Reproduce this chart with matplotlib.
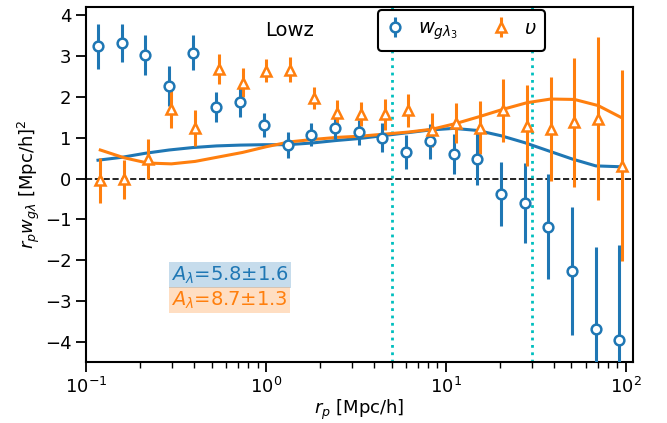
import numpy as np
import matplotlib
matplotlib.use("Agg")
import matplotlib.pyplot as plt

# ---- data ----
rp = [0.1166, 0.1579, 0.2138, 0.2897, 0.3925, 0.5316, 0.7202, 0.9754, 1.321, 1.790,
      2.424, 3.284, 4.449, 6.026, 8.163, 11.06, 14.98, 20.29, 27.48, 37.23,
      50.43, 68.31, 92.52]
w_g = [3.24, 3.33, 3.03, 2.27, 3.09, 1.75, 1.88, 1.31, 0.82, 1.08, 1.25, 1.13,
       1.00, 0.65, 0.91, 0.60, 0.47, -0.38, -0.60, -1.18, -2.27, -3.68, -3.97]
w_g_err = [0.56, 0.46, 0.48, 0.49, 0.43, 0.37, 0.36, 0.29, 0.31, 0.27, 0.29, 0.31,
           0.36, 0.41, 0.43, 0.50, 0.64, 0.78, 0.98, 1.28, 1.58, 2.00, 2.35]
ups = [-0.04, -0.02, 0.47, 1.70, 1.23, 2.69, 2.35, 2.64, 2.67, 1.98, 1.60, 1.58,
       1.58, 1.67, 1.19, 1.36, 1.24, 1.67, 1.30, 1.22, 1.38, 1.47, 0.31]
ups_err = [0.55, 0.47, 0.49, 0.47, 0.44, 0.37, 0.35, 0.28, 0.30, 0.27, 0.33, 0.30,
           0.38, 0.40, 0.42, 0.50, 0.65, 0.78, 1.00, 1.28, 1.58, 2.00, 2.34]
model_g = [0.45, 0.52, 0.62, 0.70, 0.76, 0.80, 0.82, 0.83, 0.83, 0.87, 0.93, 0.98,
           1.05, 1.12, 1.19, 1.23, 1.18, 1.05, 0.88, 0.68, 0.48, 0.31, 0.29]
model_u = [0.70, 0.51, 0.38, 0.36, 0.42, 0.53, 0.64, 0.78, 0.90, 0.96, 1.01, 1.04,
           1.09, 1.14, 1.21, 1.35, 1.52, 1.70, 1.86, 1.95, 1.94, 1.79, 1.49]
shift = 1.03
rp_cuts = [5, 30]
A_g = "$A_\\lambda$=5.8$\\pm$1.6"
A_u = "$A_\\lambda$=8.7$\\pm$1.3"

blue = "#1f77b4"
orange = "#ff7f0e"

fig = plt.figure(figsize=(6.67, 4.23), dpi=100)
ax = fig.add_axes([86/667, 1-362/423, (633-86)/667, (362-7.3)/423])

rp_arr = np.array(rp)
ax.errorbar(rp_arr, w_g, yerr=w_g_err, fmt='o', color=blue, mfc='white', mec=blue,
            ms=7, mew=1.8, elinewidth=2.2, capsize=0, label='$w_{g\\lambda_3}$', zorder=3)
ax.errorbar(rp_arr*shift, ups, yerr=ups_err, fmt='^', color=orange, mfc='white', mec=orange,
            ms=7.5, mew=1.8, elinewidth=2.2, capsize=0, label='$\\upsilon$', zorder=3)
ax.plot(rp_arr, model_g, color=blue, lw=2.2, zorder=2)
ax.plot(rp_arr*shift, model_u, color=orange, lw=2.2, zorder=2)

ax.axhline(0, color='k', ls='--', lw=1.2, zorder=1)
for c in rp_cuts:
    ax.axvline(c, color='c', ls=':', lw=2, zorder=1)

ax.set_xscale('log')
ax.set_xlim(0.1, 110)
ax.set_ylim(-4.5, 4.2)
ax.set_yticks([-4, -3, -2, -1, 0, 1, 2, 3, 4])

ax.set_xlabel('$r_p$ [Mpc/h]', fontsize=13, labelpad=1)
ax.set_ylabel('$r_p w_{g\\lambda}$ [Mpc/h]$^2$', fontsize=13, labelpad=2)
ax.tick_params(axis='both', which='major', labelsize=13, length=7, width=1.3)
ax.tick_params(axis='x', which='minor', length=4, width=1.0)
for s in ax.spines.values():
    s.set_linewidth(1.5)

ax.text(0.327, 0.935, 'Lowz', transform=ax.transAxes, fontsize=14, ha='left', va='center')

ax.text(0.155, 0.245, A_g, transform=ax.transAxes, fontsize=14, color=blue, va='center',
        bbox=dict(facecolor=blue, alpha=0.25, edgecolor='none', pad=1.5))
ax.text(0.155, 0.175, A_u, transform=ax.transAxes, fontsize=14, color=orange, va='center',
        bbox=dict(facecolor=orange, alpha=0.25, edgecolor='none', pad=1.5))

leg = ax.legend(loc='upper left', bbox_to_anchor=((378-86)/547, (362-10)/354.7), ncol=2,
                fontsize=14, frameon=True, fancybox=True, framealpha=1, edgecolor='k',
                handlelength=0.8, handletextpad=0.8, columnspacing=1.8, borderaxespad=0,
                borderpad=0.45)
leg.get_frame().set_linewidth(1.5)

fig.savefig('out.png', dpi=100)
